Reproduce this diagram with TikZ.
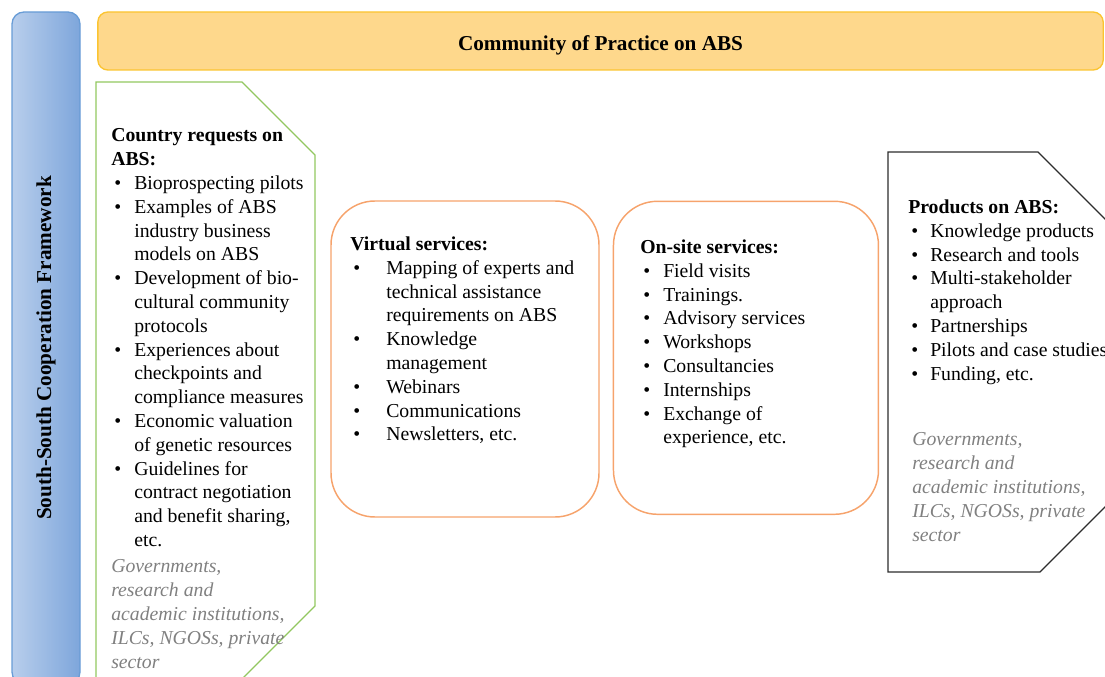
\documentclass[tikz,border=0pt]{standalone}
\usepackage{fontspec}
\setmainfont{Liberation Serif}
\usetikzlibrary{positioning}

\definecolor{sscLight}{RGB}{184,206,236}
\definecolor{sscDark}{RGB}{126,166,219}
\definecolor{sscLine}{RGB}{104,156,214}
\definecolor{copFill}{RGB}{254,216,140}
\definecolor{copLine}{RGB}{251,196,48}
\definecolor{reqLine}{RGB}{146,199,96}
\definecolor{svcLine}{RGB}{246,163,108}
\definecolor{prodLine}{RGB}{45,45,45}
\definecolor{actors}{RGB}{128,128,128}

% bullet line and its continuation, indent as optional argument
\newcommand{\bul}[2][17.25pt]{\hspace*{2.25pt}\makebox[\dimexpr#1-2.25pt\relax][l]{\textbullet}#2}
\newcommand{\cont}[2][17.25pt]{\hspace*{#1}#2}

\tikzset{
    body/.style={font=\fontsize{14.8}{17.85}\selectfont},
    listtext/.style={body, align=left, anchor=north west, inner sep=0pt,
        execute at begin node=\strut},
    actortext/.style={listtext, text=actors, font=\fontsize{14.8}{17.85}\selectfont\itshape},
    sscbar/.style={draw=sscLine, line width=1pt, rounded corners=9pt,
        left color=sscLight, right color=sscDark, rotate=90,
        minimum width=504pt, minimum height=51pt,
        font=\fontsize{15.9}{19}\selectfont\bfseries},
    copbar/.style={draw=copLine, line width=1pt, rounded corners=7.5pt, fill=copFill,
        minimum width=754pt, minimum height=43.5pt, text height=15pt, text depth=0pt,
        font=\fontsize{15.9}{19}\selectfont\bfseries},
    service/.style={draw=svcLine, line width=1.1pt, rounded corners=33pt},
    shapeline/.style={line width=1pt}
}

\begin{document}
\begin{tikzpicture}[x=0.75pt, y=-0.75pt]
    \useasboundingbox (0,0) rectangle (1105,677);
    \clip (0,0) rectangle (1105,677);

    % frames
    \node[sscbar] (ssc) at (46,348) {South-South Cooperation Framework};
    \node[copbar] (cop) at (600.5,41) {Community of Practice on ABS};

    % demand and supply sides
    \draw[shapeline, reqLine] (96,700) -- (96,82) -- (242,82) -- (315,155) -- (315,606) -- (221,700);
    \draw[shapeline, prodLine] (1130,244) -- (1038,152) -- (888,152) -- (888,572) -- (1040,572) -- (1130,482);

    % services
    \node[service, minimum width=201pt, minimum height=237pt] (virtual) at (465,359) {};
    \node[service, minimum width=198.75pt, minimum height=234.75pt, right=9.75pt of virtual, yshift=0.9pt] (onsite) {};

    \node[listtext] (requests) at (111,128.5) {%
        \textbf{Country requests on}\\
        \textbf{ABS:}\\
        \bul{Bioprospecting pilots}\\
        \bul{Examples of ABS}\\
        \cont{industry business}\\
        \cont{models on ABS}\\
        \bul{Development of bio-}\\
        \cont{cultural community}\\
        \cont{protocols}\\
        \bul{Experiences about}\\
        \cont{checkpoints and}\\
        \cont{compliance measures}\\
        \bul{Economic valuation}\\
        \cont{of genetic resources}\\
        \bul{Guidelines for}\\
        \cont{contract negotiation}\\
        \cont{and benefit sharing,}\\
        \cont{etc.}};
    \node[actortext] (reqactors) at (111,559.5) {%
        Governments,\\
        research and\\
        academic institutions,\\
        ILCs, NGOSs, private\\
        sector};

    \node[listtext] (virtuallist) at (350,236.5) {%
        \textbf{Virtual services:}\\
        \bul[27pt]{Mapping of experts and}\\
        \cont[27pt]{technical assistance}\\
        \cont[27pt]{requirements on ABS}\\
        \bul[27pt]{Knowledge}\\
        \cont[27pt]{management}\\
        \bul[27pt]{Webinars}\\
        \bul[27pt]{Communications}\\
        \bul[27pt]{Newsletters, etc.}};

    \node[listtext] (onsitelist) at (640,239.5) {%
        \textbf{On-site services:}\\
        \bul{Field visits}\\
        \bul{Trainings.}\\
        \bul{Advisory services}\\
        \bul{Workshops}\\
        \bul{Consultancies}\\
        \bul{Internships}\\
        \bul{Exchange of}\\
        \cont{experience, etc.}};

    \node[listtext] (products) at (908,199.5) {%
        \textbf{Products on ABS:}\\
        \bul[16.5pt]{Knowledge products}\\
        \bul[16.5pt]{Research and tools}\\
        \bul[16.5pt]{Multi-stakeholder}\\
        \cont[16.5pt]{approach}\\
        \bul[16.5pt]{Partnerships}\\
        \bul[16.5pt]{Pilots and case studies}\\
        \bul[16.5pt]{Funding, etc.}};
    \node[actortext] (prodactors) at (912,432.5) {%
        Governments,\\
        research and\\
        academic institutions,\\
        ILCs, NGOSs, private\\
        sector};
\end{tikzpicture}
\end{document}
